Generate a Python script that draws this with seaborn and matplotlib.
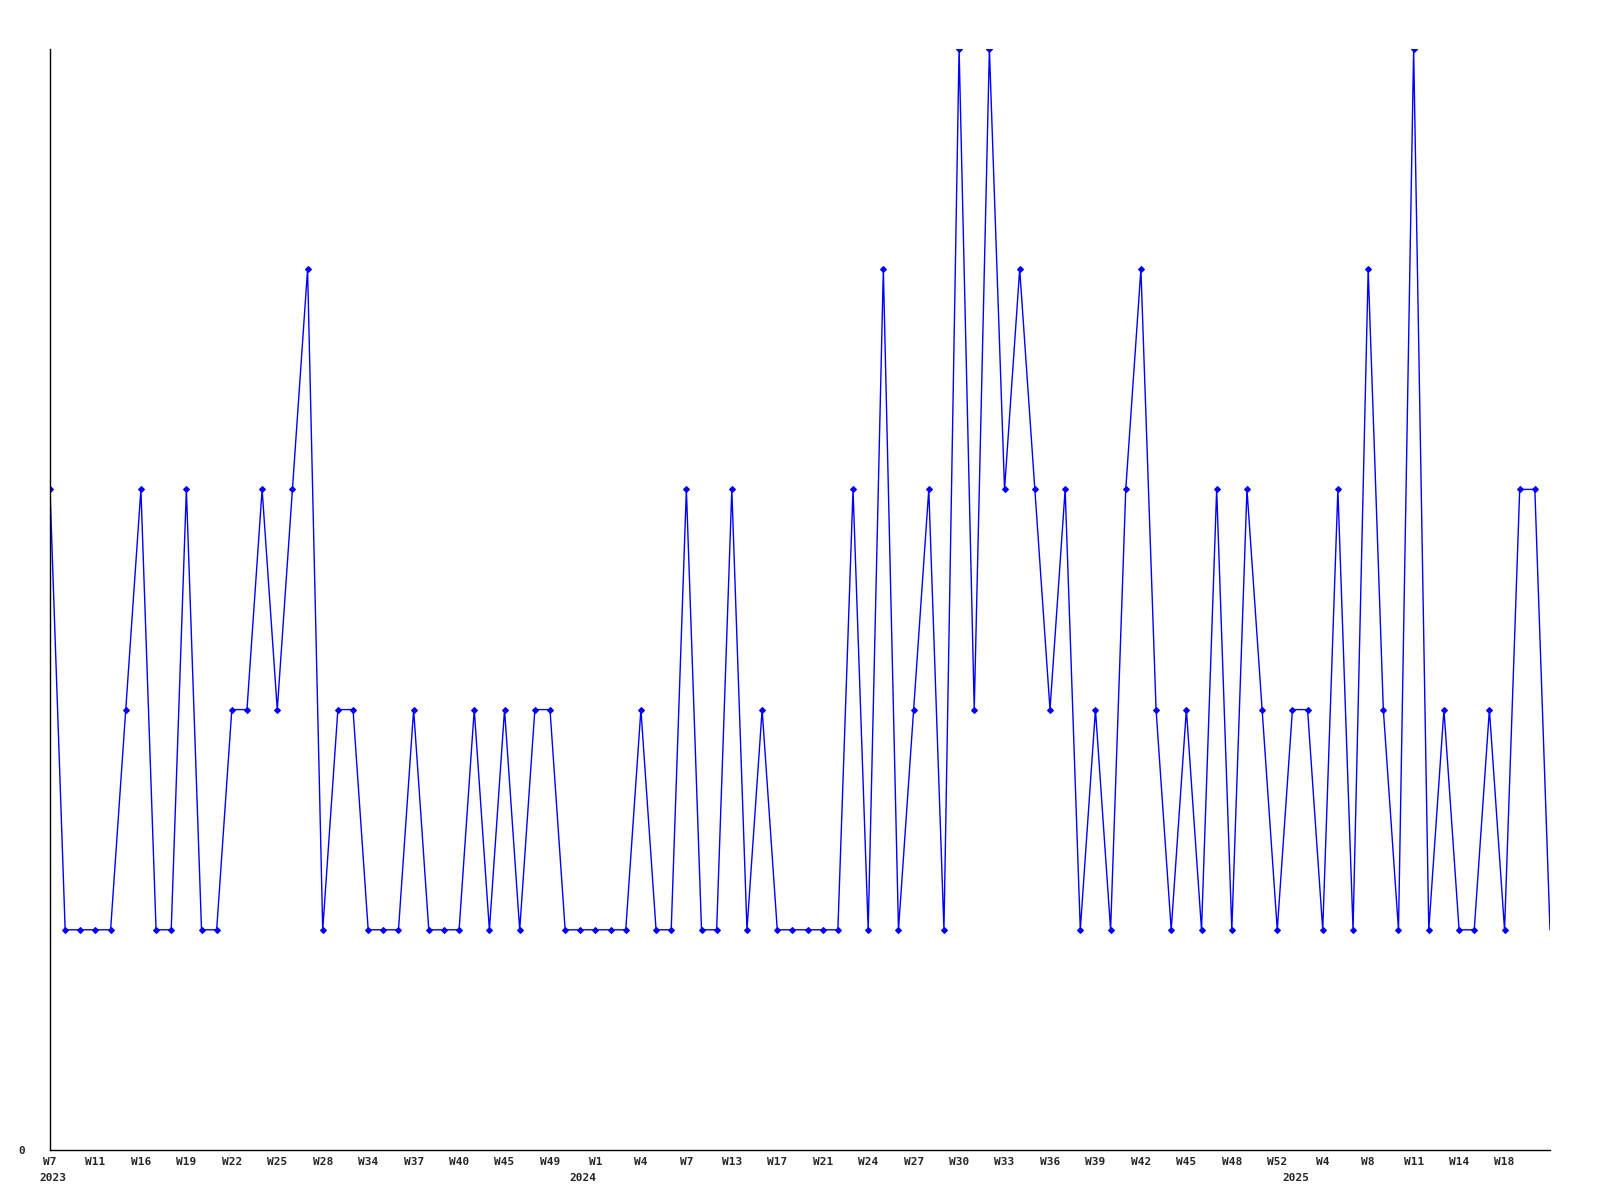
import matplotlib
matplotlib.use("Agg")
import matplotlib.pyplot as plt
import seaborn as sns
import pandas as pd

# weekly counts, one per sample
values = [3, 1, 1, 1, 1, 2, 3, 1, 1, 3,
          1, 1, 2, 2, 3, 2, 3, 4, 1, 2,
          2, 1, 1, 1, 2, 1, 1, 1, 2, 1,
          2, 1, 2, 2, 1, 1, 1, 1, 1, 2,
          1, 1, 3, 1, 1, 3, 1, 2, 1, 1,
          1, 1, 1, 3, 1, 4, 1, 2, 3, 1,
          5, 2, 5, 3, 4, 3, 2, 3, 1, 2,
          1, 3, 4, 2, 1, 2, 1, 3, 1, 3,
          2, 1, 2, 2, 1, 3, 1, 4, 2, 1,
          5, 1, 2, 1, 1, 2, 1, 3, 3, 1]

week_labels = ["W7", "W11", "W16", "W19", "W22", "W25", "W28", "W34", "W37",
               "W40", "W45", "W49", "W1", "W4", "W7", "W13", "W17", "W21",
               "W24", "W27", "W30", "W33", "W36", "W39", "W42", "W45", "W48",
               "W52", "W4", "W8", "W11", "W14", "W18"]
years = ["2023", "2024", "2025"]
year_pos = [0.2, 35.2, 82.2]

df = pd.DataFrame({"idx": range(len(values)), "count": values})

sns.set_style("white")
plt.rcParams["font.family"] = ["DejaVu Sans Mono"]

fig = plt.figure(figsize=(16, 12), dpi=100)
ax = fig.add_axes([50 / 1600, 50 / 1200, 1500 / 1600, 1101 / 1200])

sns.lineplot(data=df, x="idx", y="count", ax=ax, color="#0000ff",
             linewidth=1, marker="D", markersize=3, markeredgewidth=0.8,
             markeredgecolor="#0000ff", markerfacecolor="#0000ff",
             markevery=list(range(len(values) - 1)))

ax.set_xlim(0, len(values) - 1)
ax.set_ylim(0, 5)
ax.set_xlabel("")
ax.set_ylabel("")

ax.set_xticks(range(0, 3 * len(week_labels), 3))
ax.set_xticklabels(week_labels, fontsize=8, fontweight="bold")
ax.set_yticks([0])
ax.set_yticklabels(["0"], fontsize=8, fontweight="bold")
ax.tick_params(axis="x", length=0, pad=5)
ax.tick_params(axis="y", length=0, pad=18)

for yr, pos in zip(years, year_pos):
    ax.text(pos, -0.021, yr, transform=ax.get_xaxis_transform(),
            ha="center", va="top", fontsize=8, fontweight="bold")

for s in ["top", "right"]:
    ax.spines[s].set_visible(False)
for s in ["left", "bottom"]:
    ax.spines[s].set_color("black")
    ax.spines[s].set_linewidth(1)

fig.savefig("out.png", dpi=100)
